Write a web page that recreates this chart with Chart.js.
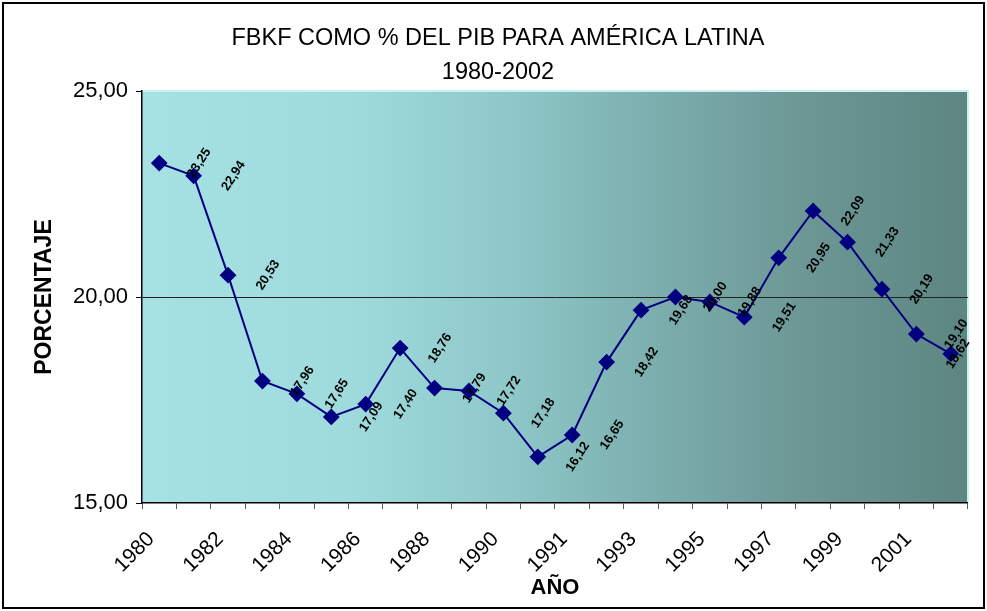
<!DOCTYPE html>
<html>
<head>
<meta charset="utf-8">
<script src="https://cdn.jsdelivr.net/npm/chart.js@4/dist/chart.umd.min.js"></script>
<style>
  html, body { margin: 0; padding: 0; background: #fff; }
  #wrap { width: 987px; height: 611px; position: relative; }
</style>
</head>
<body>
<div id="wrap"><canvas id="c" width="987" height="611"></canvas></div>
<script>
// ---- data ----
const years = ["1980","1981","1982","1983","1984","1985","1986","1987","1988","1989","1990","1990",
               "1991","1992","1993","1994","1995","1996","1997","1998","1999","2000","2001","2002"];
const fbkf = [23.25, 22.94, 20.53, 17.96, 17.65, 17.09, 17.40, 18.76, 17.79, 17.72, 17.18, 16.12,
              16.65, 18.42, 19.68, 20.00, 19.88, 19.51, 20.95, 22.09, 21.33, 20.19, 19.10, 18.62];
const yTicks = [15, 20, 25];
const titleLines = ["FBKF COMO % DEL PIB PARA AMÉRICA LATINA", "1980-2002"];
const FONT = "'Liberation Sans', Arial, sans-serif";

const fmt = v => v.toFixed(2).replace('.', ',');

const decor = {
  id: 'decor',
  beforeDraw(chart) {
    const {ctx, chartArea: a} = chart;
    ctx.save();
    ctx.fillStyle = '#fff';
    ctx.fillRect(0, 0, chart.width, chart.height);
    const g = ctx.createLinearGradient(a.left, 0, a.right, 0);
    g.addColorStop(0, '#a6e2e4');
    g.addColorStop(0.25, '#9fdbdd');
    g.addColorStop(0.45, '#8ec7c8');
    g.addColorStop(0.6, '#7eb1b1');
    g.addColorStop(0.8, '#6c9795');
    g.addColorStop(1, '#5d8682');
    ctx.fillStyle = g;
    ctx.fillRect(a.left, a.top, a.right - a.left, a.bottom - a.top);
    ctx.strokeStyle = '#c8f2f4';
    ctx.lineWidth = 2;
    ctx.beginPath();
    ctx.moveTo(a.left, a.top); ctx.lineTo(a.right, a.top); ctx.lineTo(a.right, a.bottom);
    ctx.stroke();
    ctx.strokeStyle = '#000';
    ctx.lineWidth = 2;
    ctx.strokeRect(3, 3, chart.width - 6, chart.height - 6);
    // title (horizontally condensed like the original)
    ctx.fillStyle = '#000';
    ctx.textAlign = 'center';
    ctx.textBaseline = 'middle';
    ctx.font = '24px ' + FONT;
    const w0 = ctx.measureText(titleLines[0]).width;
    const sx = 533 / w0;
    const cx = 498;
    ctx.save(); ctx.translate(cx, 38); ctx.scale(sx, 1); ctx.fillText(titleLines[0], 0, 0); ctx.restore();
    ctx.save(); ctx.translate(cx, 72); ctx.scale(sx, 1); ctx.fillText(titleLines[1], 0, 0); ctx.restore();
    ctx.restore();
  },
  afterDatasetsDraw(chart) {
    const {ctx, chartArea: a} = chart;
    const meta = chart.getDatasetMeta(0);
    ctx.save();
    ctx.fillStyle = '#000';
    ctx.font = 'bold 13px ' + FONT;
    ctx.textAlign = 'center';
    ctx.textBaseline = 'middle';
    meta.data.forEach((pt, i) => {
      ctx.save();
      ctx.translate(Math.min(pt.x + 40, a.right - 10), pt.y);
      ctx.rotate(-57 * Math.PI / 180);
      ctx.fillText(fmt(fbkf[i]), 0, 0);
      ctx.restore();
    });
    ctx.restore();
  }
};

new Chart(document.getElementById('c'), {
  type: 'line',
  data: {
    labels: years,
    datasets: [{
      data: fbkf,
      borderColor: '#000080',
      backgroundColor: '#000080',
      borderWidth: 2,
      pointStyle: 'rectRot',
      pointRadius: 7,
      pointHoverRadius: 7,
      tension: 0,
      fill: false
    }]
  },
  options: {
    responsive: false,
    animation: false,
    devicePixelRatio: 1,
    layout: { padding: { top: 91, right: 19, bottom: 0, left: 0 } },
    plugins: { legend: { display: false }, tooltip: { enabled: false }, title: { display: false } },
    scales: {
      x: {
        offset: true,
        grid: { offset: true, drawOnChartArea: false, tickLength: 6, tickColor: '#555', lineWidth: 1 },
        border: { color: '#000', width: 1.5 },
        ticks: {
          autoSkip: false, minRotation: 45, maxRotation: 45, padding: 18, labelOffset: -8,
          color: '#000', font: { family: FONT, size: 21 },
          callback: function(v, i) { return i % 2 === 0 ? this.getLabelForValue(v) : ''; }
        },
        title: { display: true, text: 'AÑO', color: '#000', font: { family: FONT, size: 22, weight: 'bold' }, padding: { top: 0, bottom: 10 } },
        afterFit(s) { s.height = 108; }
      },
      y: {
        min: 15, max: 25,
        afterBuildTicks(s) { s.ticks = yTicks.map(v => ({ value: v })); },
        grid: {
          color: c => (c.tick && c.tick.value === 20) ? '#222' : 'rgba(0,0,0,0)',
          tickColor: '#000', tickLength: 6, lineWidth: 1
        },
        border: { color: '#000', width: 1.5 },
        ticks: {
          padding: 8, color: '#000', font: { family: FONT, size: 22 },
          callback: v => fmt(v)
        },
        title: { display: true, text: 'PORCENTAJE', color: '#000', font: { family: FONT, size: 23, weight: 'bold' }, padding: { top: 31, bottom: 0 } },
        afterFit(s) { s.width = 142; }
      }
    }
  },
  plugins: [decor]
});
</script>
</body>
</html>
